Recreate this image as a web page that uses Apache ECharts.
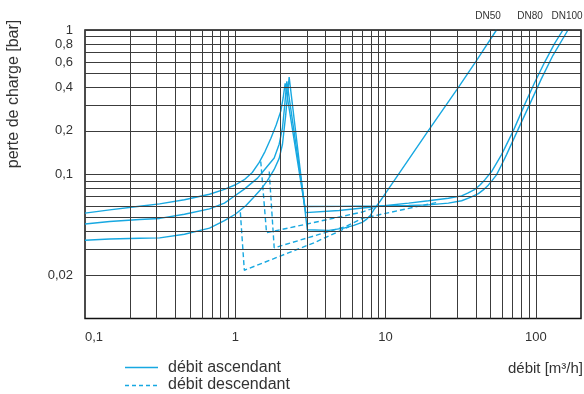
<!DOCTYPE html>
<html>
<head>
<meta charset="utf-8">
<script src="https://cdn.jsdelivr.net/npm/echarts@6/dist/echarts.min.js"></script>
<style>
  html, body { margin: 0; padding: 0; background: #fff; }
  #chart { width: 584px; height: 394px; }
</style>
</head>
<body>
<div id="chart"></div>
<script>
// Axis ticks and their printed text (French decimal comma)
const xTicks = [0.1, 1, 10, 100];
const xTickText = ['0,1', '1', '10', '100'];
const yTicks = [1, 0.8, 0.6, 0.4, 0.2, 0.1, 0.02];
const yTickText = ['1', '0,8', '0,6', '0,4', '0,2', '0,1', '0,02'];

// Pressure loss [bar] versus flow [m³/h], rising flow.
// Each curve climbs to the opening peak, drops, then follows the open-valve branch.
const ascDN100 = [[0.1, 0.0538], [0.146, 0.0566], [0.231, 0.0600], [0.314, 0.0623], [0.459, 0.0666],
  [0.674, 0.0727], [0.847, 0.0786], [1.012, 0.0849], [1.149, 0.0917], [1.298, 0.1028], [1.444, 0.1208],
  [1.580, 0.1442], [1.727, 0.1779], [1.872, 0.2195], [2.012, 0.275], [2.084, 0.3392], [2.148, 0.427],
  [2.90, 0.0597], [4.90, 0.0599], [8.75, 0.0602], [14.25, 0.0607], [19.3, 0.0613], [26.2, 0.0631],
  [32.1, 0.0655], [36.7, 0.0692], [41.5, 0.0734], [45.4, 0.0789], [48.3, 0.0840], [51.3, 0.0907],
  [54.8, 0.0991], [58.9, 0.1151], [63.9, 0.1368], [76.3, 0.2047], [91.2, 0.3064], [108.9, 0.4586],
  [130.2, 0.668], [163.8, 1.0]];
const ascDN80 = [[0.1, 0.0452], [0.146, 0.0470], [0.231, 0.0486], [0.314, 0.0494], [0.459, 0.0528],
  [0.674, 0.0576], [0.847, 0.0631], [0.957, 0.0690], [1.149, 0.0789], [1.407, 0.0940], [1.580, 0.1088],
  [1.816, 0.1295], [1.96, 0.1615], [2.062, 0.210], [2.132, 0.298], [2.204, 0.441],
  [2.945, 0.0542], [4.90, 0.0561], [8.75, 0.0597], [14.25, 0.0631], [19.3, 0.0655], [26.2, 0.0682],
  [32.1, 0.0708], [35.5, 0.0742], [39.4, 0.0786], [42.7, 0.0846], [45.9, 0.0917], [50.8, 0.1044],
  [59.2, 0.1368], [70.7, 0.199], [84.6, 0.3064], [98.5, 0.4342], [114.7, 0.5995], [133.6, 0.807], [151.7, 1.0]];
const ascDN50 = [[0.1, 0.0349], [0.146, 0.0356], [0.231, 0.0360], [0.314, 0.0362], [0.459, 0.0384],
  [0.674, 0.0423], [0.847, 0.0477], [1.0, 0.0528], [1.179, 0.0607], [1.318, 0.0687], [1.467, 0.0777],
  [1.632, 0.0900], [1.816, 0.1079], [1.96, 0.1288], [2.062, 0.1615], [2.164, 0.2537], [2.284, 0.471],
  [3.018, 0.0412], [4.20, 0.0408], [5.28, 0.0423], [6.157, 0.0442], [6.99, 0.0464], [7.506, 0.0489],
  [7.94, 0.0520], [8.48, 0.0579], [9.25, 0.0655], [10.23, 0.0765], [19.33, 0.2014], [30.56, 0.4006],
  [40.4, 0.6164], [54.8, 1.0]];

// Falling flow: the valve closes earlier, then rejoins the rising curve
const descDN100 = [[1.478, 0.1227], [1.615, 0.0393], [6.99, 0.0547], [8.61, 0.0588]];
const descDN80 = [[1.683, 0.1044], [1.816, 0.0309], [5.42, 0.0434], [6.99, 0.0494], [17.46, 0.0607], [22.5, 0.0640]];
const descDN50 = [[1.081, 0.0545], [1.149, 0.0216], [3.344, 0.0335], [5.70, 0.0432]];

const pipeSizes = ['DN50', 'DN80', 'DN100'];
const legendNames = ['débit ascendant', 'débit descendant'];

const LINE = '#17a8e1';
const GRID = '#3c3c3c';
const TEXT = '#333';
const FONT = 'Liberation Sans, Arial, sans-serif';

// Grid lines at every 1..9 step of each decade
const xGrid = [];
for (const dec of [0.1, 1, 10]) for (let k = 1; k <= 9; k++) if (!(dec === 0.1 && k === 1)) xGrid.push(+(dec * k).toPrecision(3));
xGrid.push(100);
const yGrid = [];
for (const dec of [0.01, 0.1]) for (let k = 2; k <= 9; k++) yGrid.push(+(dec * k).toPrecision(3));
yGrid.push(0.1, 1);

const gridLines = [];
xGrid.forEach(v => gridLines.push({ xAxis: v }));
yGrid.forEach(v => {
  const i = yTicks.indexOf(v);
  const item = { yAxis: v };
  if (i >= 0) item.label = { show: true, formatter: yTickText[i] };
  gridLines.push(item);
});

const curve = (name, data, dashed) => ({
  type: 'line', name, data, symbol: 'none', z: 3, smooth: false,
  lineStyle: { color: LINE, width: 1.4, type: dashed ? [5, 3] : 'solid' },
  itemStyle: { color: LINE },
  animation: false, silent: true
});

const labelText = (x, y, text, size, align) => ({
  type: 'text', x, y, silent: true,
  style: { text, fill: TEXT, font: size + 'px ' + FONT, align: align || 'center', verticalAlign: 'middle' }
});

const chart = echarts.init(document.getElementById('chart'), null, { renderer: 'canvas' });
chart.setOption({
  animation: false,
  grid: { left: 85, right: 1, top: 30, bottom: 75.5, show: true, borderColor: '#111', borderWidth: 1.5, backgroundColor: 'transparent' },
  xAxis: {
    type: 'log', min: 0.1, max: 200, logBase: 10,
    axisLine: { show: false }, axisTick: { show: false }, splitLine: { show: false },
    axisLabel: {
      color: TEXT, fontSize: 13, fontFamily: FONT, margin: 12, alignMinLabel: 'left',
      formatter: v => { const i = xTicks.findIndex(t => Math.abs(t - v) / t < 1e-6); return i >= 0 ? xTickText[i] : ''; }
    }
  },
  yAxis: {
    type: 'log', min: 0.01, max: 1, logBase: 10,
    axisLine: { show: false }, axisTick: { show: false }, splitLine: { show: false },
    axisLabel: { show: false }
  },
  graphic: [
    Object.assign(labelText(14, 94, 'perte de charge [bar]', 16), { rotation: Math.PI / 2 }),
    labelText(583, 369, 'débit [m³/h]', 15, 'right'),
    labelText(488, 16, pipeSizes[0], 10),
    labelText(530, 16, pipeSizes[1], 10),
    labelText(567, 16, pipeSizes[2], 10),
    // legend
    { type: 'line', silent: true, shape: { x1: 125, y1: 367.5, x2: 158, y2: 367.5 },
      style: { stroke: LINE, lineWidth: 1.4 } },
    { type: 'line', silent: true, shape: { x1: 125, y1: 385.5, x2: 158, y2: 385.5 },
      style: { stroke: LINE, lineWidth: 1.4, lineDash: [4, 3] } },
    labelText(168, 368, legendNames[0], 16, 'left'),
    labelText(168, 385, legendNames[1], 16, 'left')
  ],
  series: [
    {
      type: 'line', name: 'grid', data: [], z: 1, silent: true, animation: false,
      markLine: {
        silent: true, animation: false, symbol: ['none', 'none'],
        lineStyle: { color: GRID, width: 1, type: 'solid' },
        label: { show: false, position: 'start', distance: 12, color: TEXT, fontSize: 13, fontFamily: FONT },
        emphasis: { disabled: true },
        data: gridLines
      }
    },
    curve(legendNames[0], ascDN100, false),
    curve(legendNames[0], ascDN80, false),
    curve(legendNames[0], ascDN50, false),
    curve(legendNames[1], descDN100, true),
    curve(legendNames[1], descDN80, true),
    curve(legendNames[1], descDN50, true)
  ]
});
</script>
</body>
</html>
